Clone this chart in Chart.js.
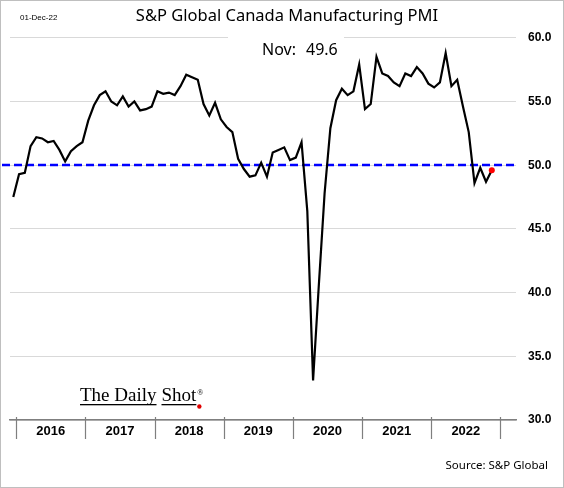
<!DOCTYPE html>
<html>
<head>
<meta charset="utf-8">
<script src="https://cdn.jsdelivr.net/npm/chart.js@4"></script>
<style>
  html, body { margin: 0; padding: 0; background: #fff; }
  #wrap { width: 564px; height: 488px; position: relative; }
</style>
</head>
<body>
<div id="wrap"><canvas id="pmiChart"></canvas></div>
<script>
// PMI mensal, Dez-2015 ate Nov-2022
const firstMonth = 'Dec-2015';
const pmiValues = [
  47.5,
  49.3, 49.4, 51.5, 52.2, 52.1, 51.8, 51.9, 51.2, 50.3, 51.1, 51.5, 51.8,
  53.5, 54.7, 55.5, 55.8, 55.0, 54.7, 55.4, 54.6, 55.0, 54.3, 54.4, 54.6,
  55.8, 55.6, 55.7, 55.5, 56.2, 57.1, 56.9, 56.7, 54.8, 53.9, 54.9, 53.6,
  53.0, 52.6, 50.5, 49.7, 49.1, 49.2, 50.2, 49.1, 51.0, 51.2, 51.4, 50.4,
  50.6, 51.8, 46.4, 33.1, 40.6, 47.8, 52.9, 55.1, 56.0, 55.5, 55.8, 57.9,
  54.4, 54.8, 58.5, 57.2, 57.0, 56.5, 56.2, 57.2, 57.0, 57.7, 57.2, 56.4,
  56.1, 56.5, 58.8, 56.2, 56.7, 54.6, 52.6, 48.6, 49.8, 48.7, 49.6
];
const yearLabels = ['2016', '2017', '2018', '2019', '2020', '2021', '2022'];
const yTicks = [30, 35, 40, 45, 50, 55, 60];
const threshold = 50;
const latestLabel = 'Nov:';

const lastIdx = pmiValues.length - 1;
const points = pmiValues.map((v, i) => ({ x: i, y: v }));

// fronteiras entre anos (entre dezembro e janeiro)
const yearBounds = [];
for (let k = 0; k <= yearLabels.length; k++) yearBounds.push(0.5 + 12 * k);

// extras desenhados a mao: linha 50, caixa do ultimo valor, logo, fonte
const extras = {
  id: 'extras',
  beforeDatasetsDraw(chart) {
    const ctx = chart.ctx;
    const y = chart.scales.y;
    const x = chart.scales.x;
    const area = chart.chartArea;
    ctx.save();
    // caixa branca que corta a linha de grade do 60
    ctx.fillStyle = '#fff';
    ctx.fillRect(228, 30, 116, 30);
    ctx.fillStyle = '#000';
    ctx.font = '16px "Noto Sans"';
    ctx.textBaseline = 'middle';
    ctx.textAlign = 'left';
    ctx.fillText(latestLabel, 262, 50);
    ctx.fillText(pmiValues[lastIdx].toFixed(1), 306, 50);
    // linha tracejada em 50
    const py = Math.round(y.getPixelForValue(threshold));
    ctx.strokeStyle = '#0000ff';
    ctx.lineWidth = 2.5;
    ctx.setLineDash([8, 4]);
    ctx.beginPath();
    ctx.moveTo(2, py);
    ctx.lineTo(area.right, py);
    ctx.stroke();
    ctx.setLineDash([]);
    // marcas dos anos no eixo x
    ctx.strokeStyle = '#7f7f7f';
    ctx.lineWidth = 1.2;
    yearBounds.forEach(b => {
      const px = Math.round(x.getPixelForValue(b)) + 0.5;
      ctx.beginPath();
      ctx.moveTo(px, area.bottom - 3);
      ctx.lineTo(px, area.bottom + 19);
      ctx.stroke();
    });
    ctx.restore();
  },
  afterDraw(chart) {
    const ctx = chart.ctx;
    ctx.save();
    // moldura
    ctx.strokeStyle = '#bfbfbf';
    ctx.lineWidth = 1;
    ctx.strokeRect(0.5, 0.5, chart.width - 1, chart.height - 1);
    // data
    ctx.fillStyle = '#000';
    ctx.font = '8px "Liberation Sans"';
    ctx.textBaseline = 'middle';
    ctx.fillText('01-Dec-22', 20, 18);
    // fonte
    ctx.font = '11.5px "Noto Sans"';
    ctx.textAlign = 'right';
    ctx.fillText('Source: S&P Global', 548, 466);
    // logo
    ctx.textAlign = 'left';
    ctx.textBaseline = 'alphabetic';
    ctx.font = '19px "Liberation Serif"';
    const w1 = ctx.measureText('The Daily').width;
    ctx.fillText('The Daily', 80, 401);
    const sx = 80 + w1 + 5;
    ctx.fillText('Shot', sx, 401);
    const w2 = ctx.measureText('Shot').width;
    ctx.fillRect(80, 404, w1, 1.3);
    ctx.fillRect(sx, 404, w2, 1.3);
    ctx.font = '8px "Liberation Serif"';
    ctx.fillText('®', sx + w2 + 1, 395);
    ctx.fillStyle = '#e00000';
    ctx.beginPath();
    ctx.arc(sx + w2 + 3, 406.5, 2.2, 0, Math.PI * 2);
    ctx.fill();
    ctx.restore();
  }
};

new Chart(document.getElementById('pmiChart').getContext('2d'), {
  type: 'line',
  data: {
    datasets: [{
      label: 'PMI',
      data: points,
      borderColor: '#000',
      borderWidth: 2.2,
      tension: 0,
      pointRadius: ctx => ctx.dataIndex === lastIdx ? 3 : 0,
      pointBackgroundColor: '#ff0000',
      pointBorderWidth: 0
    }]
  },
  options: {
    responsive: true,
    maintainAspectRatio: false,
    animation: false,
    layout: { padding: { left: 10, right: 0, top: 0, bottom: 0 } },
    plugins: {
      legend: { display: false },
      tooltip: { enabled: false },
      title: {
        display: true,
        text: 'S&P Global Canada Manufacturing PMI',
        color: '#000',
        font: { family: '"Noto Sans"', size: 16.5, weight: 'normal', lineHeight: 1.2 },
        padding: { top: 6, bottom: 12 }
      }
    },
    scales: {
      x: {
        type: 'linear',
        min: -0.57,
        max: 87.2,
        afterBuildTicks: scale => {
          scale.ticks = yearLabels.map((_, k) => ({ value: 6.5 + 12 * k }));
        },
        afterFit: scale => { scale.height = 68; },
        grid: { display: false, drawTicks: false },
        border: { display: true, color: '#7f7f7f', width: 1.5 },
        ticks: {
          autoSkip: false,
          maxRotation: 0,
          padding: 4,
          color: '#000',
          font: { family: '"Liberation Sans"', size: 13, weight: 'bold' },
          callback: (v) => yearLabels[Math.round((v - 6.5) / 12)]
        }
      },
      y: {
        position: 'right',
        min: 30,
        max: 60,
        afterBuildTicks: scale => {
          scale.ticks = yTicks.map(v => ({ value: v }));
        },
        afterFit: scale => { scale.width = 48; },
        grid: { color: '#d9d9d9', lineWidth: 1, drawTicks: false },
        border: { display: false },
        ticks: {
          padding: 12,
          color: '#000',
          font: { family: '"Liberation Sans"', size: 12, weight: 'bold' },
          callback: v => v.toFixed(1)
        }
      }
    }
  },
  plugins: [extras]
});
</script>
</body>
</html>
